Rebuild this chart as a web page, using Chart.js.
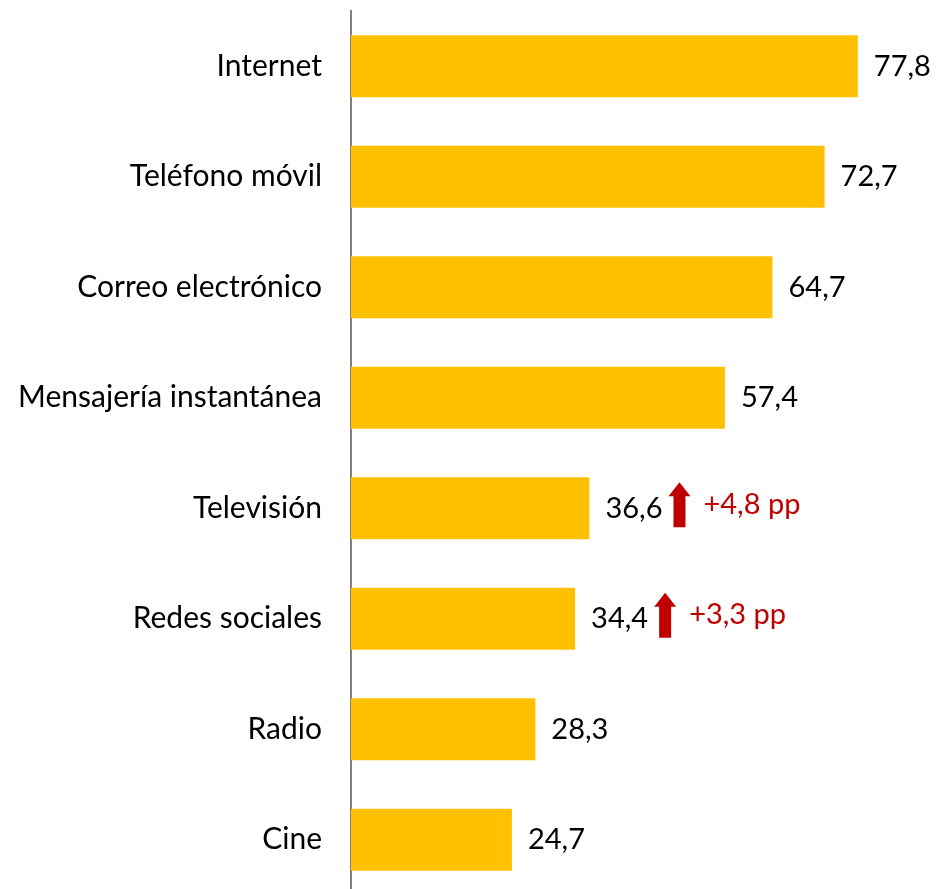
<!DOCTYPE html>
<html>
<head>
<meta charset="utf-8">
<script src="https://cdn.jsdelivr.net/npm/chart.js@4"></script>
<style>
  html, body { margin: 0; padding: 0; background: #fff; overflow: hidden; }
  #wrap { width: 936px; height: 895px; }
</style>
</head>
<body>
<div id="wrap"><canvas id="myChart" width="936" height="895"></canvas></div>
<script>
// categories, values (%) and change in percentage points
const labels = ["Internet", "Teléfono móvil", "Correo electrónico", "Mensajería instantánea",
    "Televisión", "Redes sociales", "Radio", "Cine"];
const values = [77.8, 72.7, 64.7, 57.4, 36.6, 34.4, 28.3, 24.7];
const changes = [null, null, null, null, 4.8, 3.3, null, null];

const FONT = "Lato, 'Open Sans', sans-serif";
const RED = '#C00000';

function fmt(v) {
    return v.toFixed(1).replace('.', ',');
}

// value labels plus red arrows with the change in pp
const barLabels = {
    id: 'barLabels',
    afterDatasetsDraw(chart) {
        const ctx = chart.ctx;
        const meta = chart.getDatasetMeta(0);
        ctx.save();
        ctx.font = '29px ' + FONT;
        ctx.textBaseline = 'middle';
        meta.data.forEach((bar, i) => {
            const txt = fmt(values[i]);
            const x = bar.x + 16;
            const y = bar.y;
            ctx.fillStyle = '#000';
            ctx.textAlign = 'left';
            ctx.fillText(txt, x, y);

            if (changes[i] == null) return;
            const ax = x + ctx.measureText(txt).width + 6;
            const top = y - 26, bottom = y + 19;
            const w = 22, shaft = 12, head = 14;
            ctx.fillStyle = RED;
            ctx.beginPath();
            ctx.moveTo(ax + w / 2, top);
            ctx.lineTo(ax + w, top + head);
            ctx.lineTo(ax + w / 2 + shaft / 2, top + head);
            ctx.lineTo(ax + w / 2 + shaft / 2, bottom);
            ctx.lineTo(ax + w / 2 - shaft / 2, bottom);
            ctx.lineTo(ax + w / 2 - shaft / 2, top + head);
            ctx.lineTo(ax, top + head);
            ctx.closePath();
            ctx.fill();
            ctx.fillText('+' + fmt(changes[i]) + ' pp', ax + w + 13, y - 4);
        });
        ctx.restore();
    }
};

const chart = new Chart(document.getElementById('myChart'), {
    type: 'bar',
    data: {
        labels: labels,
        datasets: [{
            data: values,
            backgroundColor: '#FFC000',
            borderWidth: 0,
            barPercentage: 0.56,
            categoryPercentage: 1
        }]
    },
    options: {
        indexAxis: 'y',
        responsive: false,
        animation: false,
        layout: { padding: { top: 11, right: 0, bottom: 0, left: 0 } },
        scales: {
            x: {
                display: false,
                min: 0,
                max: 89.8
            },
            y: {
                afterFit(scale) {
                    scale.width = 351;
                    scale.paddingTop = 0;
                    scale.paddingBottom = 0;
                },
                grid: { display: false, drawTicks: false },
                border: { display: true, color: '#808080', width: 2 },
                ticks: {
                    padding: 29,
                    color: '#000',
                    font: { family: FONT, size: 30 }
                }
            }
        },
        plugins: {
            legend: { display: false },
            tooltip: { enabled: false }
        }
    },
    plugins: [barLabels]
});
</script>
</body>
</html>
